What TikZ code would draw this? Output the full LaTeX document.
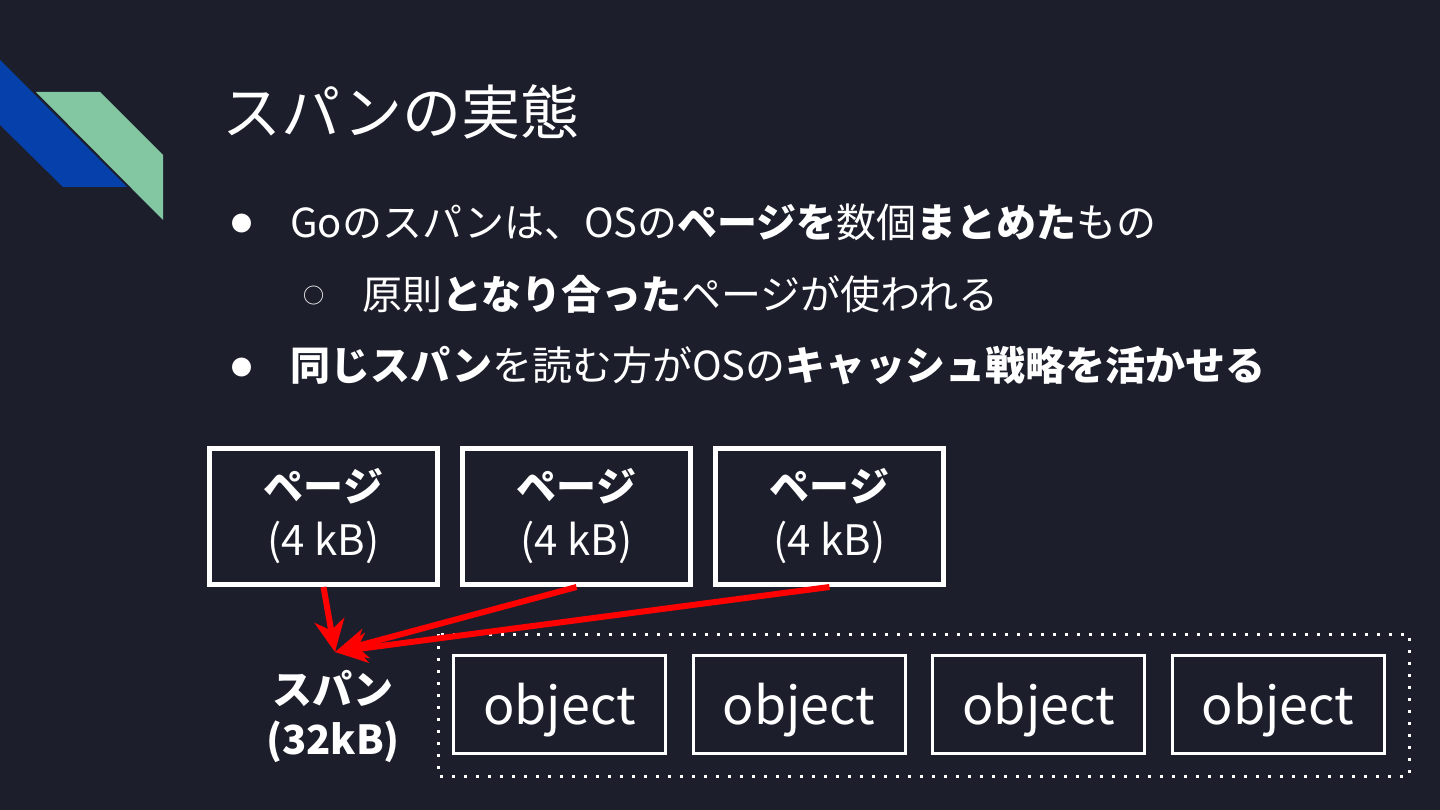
\documentclass[tikz,border=0pt]{standalone}
\usepackage{fontspec}
\setmainfont{Noto Sans CJK JP}
\usetikzlibrary{arrows.meta}
\definecolor{BgNavy}{RGB}{28,31,43}
\definecolor{StripeBlue}{RGB}{6,64,170}
\definecolor{StripeGreen}{RGB}{131,198,162}

\begin{document}
\begin{tikzpicture}[x=1pt,y=-1pt]
  \tikzset{PageStyle/.style = {
    shape         = rectangle,
    draw          = white,
    line width    = 5pt,
    text          = white,
    align         = center,
    inner sep     = 0pt,
    minimum width = 228pt,
    minimum height= 136pt,
    font          = \fontsize{42}{52}\selectfont
    }
  }
  \tikzset{ObjectStyle/.style = {
    shape         = rectangle,
    draw          = white,
    line width    = 3pt,
    text          = white,
    inner sep     = 0pt,
    text height   = 39pt,
    text depth    = 0pt,
    minimum width = 212pt,
    minimum height= 98pt,
    font          = \fontsize{52}{58}\selectfont
    }
  }
  \tikzset{TextStyle/.style = {
    anchor        = west,
    inner sep     = 0pt,
    text          = white,
    font          = \fontsize{40}{48}\selectfont
    }
  }
  \tikzset{ArrowStyle/.style = {
    draw          = red,
    line width    = 6pt,
    -{Stealth[length=32pt,width=30pt,inset=10pt]}
    }
  }

  % background and corner stripes
  \fill[BgNavy] (0,0) rectangle (1440,810);
  \useasboundingbox (0,0) rectangle (1440,810);
  \fill[StripeBlue] (0,60) -- (127,187) -- (63,187) -- (0,125) -- cycle;
  \fill[StripeGreen] (36,92) -- (100,92) -- (163,155) -- (163,220) -- cycle;

  % title and bullets
  \node[TextStyle, font=\fontsize{59}{64}\selectfont](T1) at (222,112) {スパンの実態};
  \node[TextStyle, font=\fontsize{21}{24}\selectfont](B1) at (231,224) {●};
  \node[TextStyle](L1) at (290,222) {Goのスパンは、OSの\textbf{ページを}数個\textbf{まとめた}もの};
  \node[TextStyle, font=\fontsize{21}{24}\selectfont](B2) at (303,296) {○};
  \node[TextStyle](L2) at (362,294) {原則\textbf{となり合った}ページが使われる};
  \node[TextStyle, font=\fontsize{21}{24}\selectfont](B3) at (231,368) {●};
  \node[TextStyle](L3) at (290,366) {\textbf{同じスパン}を読む方がOSの\textbf{キャッシュ戦略を活かせる}};

  % pages
  \node[PageStyle](P1) at (323.5,516.5) {\textbf{\fontsize{40}{52}\selectfont ページ}\\[2pt](4 kB)};
  \node[PageStyle](P2) at (576.5,516.5) {\textbf{\fontsize{40}{52}\selectfont ページ}\\[2pt](4 kB)};
  \node[PageStyle](P3) at (829.5,516.5) {\textbf{\fontsize{40}{52}\selectfont ページ}\\[2pt](4 kB)};

  % span
  \node[text=white, align=center, inner sep=0pt, font=\fontsize{40}{50}\selectfont](S1) at (333,716) {\textbf{スパン}\\\textbf{(32kB)}};
  \draw[white, line width=3pt, dash pattern=on 3pt off 9pt] (438,634) rectangle (1409,776);
  \node[ObjectStyle](O1) at (559.5,704.5) {object};
  \node[ObjectStyle](O2) at (799,704.5) {object};
  \node[ObjectStyle](O3) at (1038.5,704.5) {object};
  \node[ObjectStyle](O4) at (1278,704.5) {object};

  \coordinate (T) at (335,652);
  \draw[ArrowStyle](P1.south) -- (T);
  \draw[ArrowStyle](P2.south) -- (T);
  \draw[ArrowStyle](P3.south) -- (T);

\end{tikzpicture}
\end{document}
